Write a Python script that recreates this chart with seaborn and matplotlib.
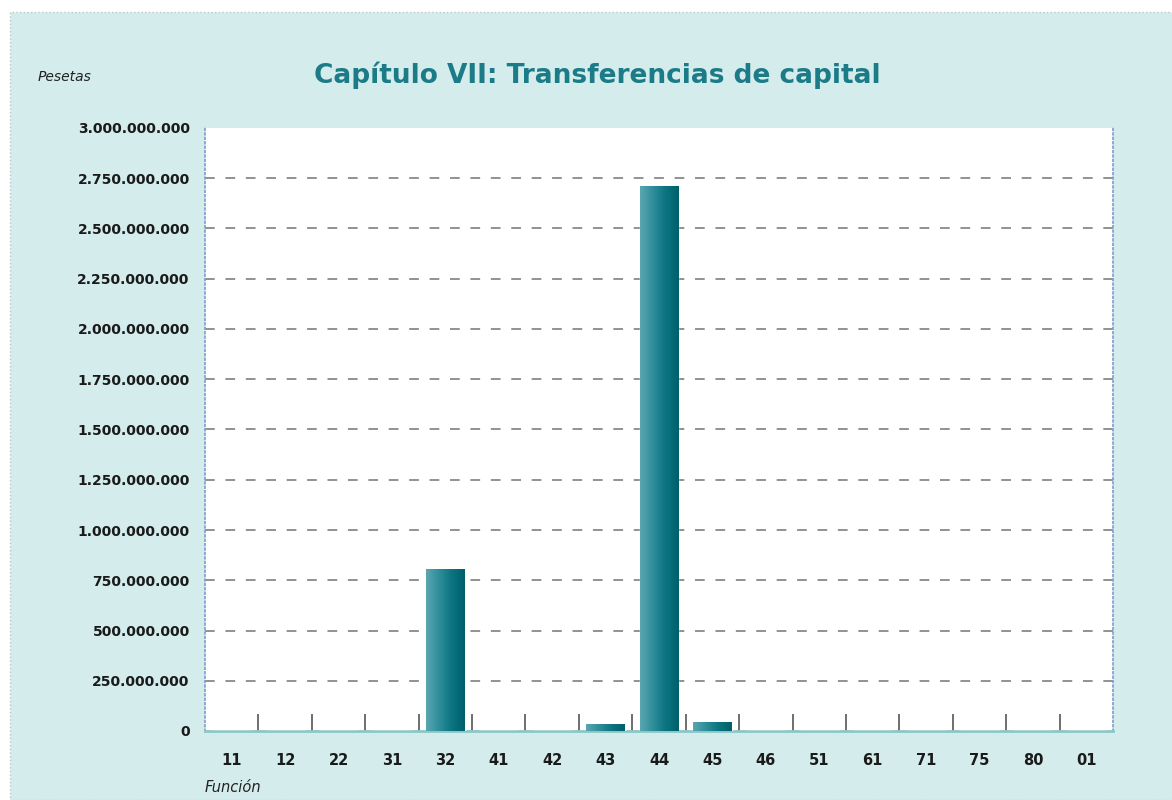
import matplotlib
matplotlib.use("Agg")
import matplotlib.pyplot as plt
import matplotlib.ticker as mticker
from matplotlib.patches import Rectangle
import numpy as np
import pandas as pd
import seaborn as sns

# ── Datos ─────────────────────────────────────────────────────────
funciones = ["11", "12", "22", "31", "32", "41", "42", "43", "44",
             "45", "46", "51", "61", "71", "75", "80", "01"]
pesetas = [0, 0, 0, 0, 808_000_000, 0, 0, 33_000_000, 2_712_000_000,
           46_000_000, 0, 0, 0, 0, 0, 0, 0]
ticks_y = list(range(0, 3_000_000_001, 250_000_000))

TITULO = "Capítulo VII: Transferencias de capital"
COLOR_TITULO = "#1b7b87"
FONDO = "#d4ecec"

sns.set_theme(style="white")
plt.rcParams["font.family"] = ["DejaVu Sans"]

df = pd.DataFrame({"funcion": funciones, "pesetas": pesetas})

fig = plt.figure(figsize=(11.72, 8), dpi=100, facecolor="white")
# fondo tramado del gráfico original
fig.patches.append(Rectangle((10 / 1172, 0), 1, 1 - 12 / 800, transform=fig.transFigure,
                             facecolor=FONDO, edgecolor="#b8c8c8", lw=1, ls=":", zorder=-5))

ax = fig.add_axes([205 / 1172, 1 - 731 / 800, 908 / 1172, 603 / 800])
ax.set_zorder(2)
ax.set_facecolor("white")

sns.barplot(data=df, x="funcion", y="pesetas", order=funciones, color="#2a8c96",
            width=0.73, saturation=1, ax=ax, zorder=3)

# degradado horizontal dentro de cada barra
grad = np.linspace(0, 1, 64).reshape(1, -1)
cmap = matplotlib.colors.LinearSegmentedColormap.from_list(
    "teal", ["#5aa6b0", "#2e8e9a", "#0a7480", "#00606c"])
for barra in ax.patches:
    h = barra.get_height()
    if h <= 0:
        continue
    x0 = barra.get_x()
    w = barra.get_width()
    img = ax.imshow(grad, cmap=cmap, aspect="auto", extent=(x0, x0 + w, 0, h),
                    zorder=4, interpolation="bilinear")
    img.set_clip_path(barra)

ax.set_xlim(-0.5, len(funciones) - 0.5)
ax.set_ylim(0, 3_000_000_000)

# rejilla discontinua
for v in ticks_y[1:-1]:
    ax.axhline(v, color="#929292", lw=1.4, ls=(0, (5, 5.5)), zorder=1)

ax.set_yticks(ticks_y)
ax.yaxis.set_major_formatter(mticker.FuncFormatter(lambda v, _: f"{int(v):,}".replace(",", ".")))
ax.tick_params(axis="y", length=0, pad=11, labelsize=10, labelcolor="#1a1a1a")
for lbl in ax.get_yticklabels():
    lbl.set_fontweight("bold")

ax.set_xticks(range(len(funciones)))
ax.set_xticklabels(funciones, fontweight="bold", fontsize=10.5, color="#1a1a1a")
ax.tick_params(axis="x", length=0, pad=16)
ax.set_xticks(np.arange(0.5, len(funciones) - 1, 1), minor=True)
ax.tick_params(axis="x", which="minor", direction="in", length=12, width=1.2,
               color="#555555", bottom=True)
ax.set_xlabel("")
ax.set_ylabel("")

# bordes
ax.spines["top"].set_visible(False)
for lado in ("left", "right"):
    ax.spines[lado].set_color("#7f9ccc")
    ax.spines[lado].set_linestyle(":")
    ax.spines[lado].set_linewidth(1.2)
ax.spines["bottom"].set_color("#8cc6c6")
ax.spines["bottom"].set_linewidth(2)

fig.text(597 / 1172, 1 - 75 / 800, TITULO, ha="center", va="center",
         fontsize=19, fontweight="bold", color=COLOR_TITULO)
fig.text(38 / 1172, 1 - 77 / 800, "Pesetas", ha="left", va="center",
         fontsize=10, style="italic", color="#222222")
fig.text(205 / 1172, 1 - 788 / 800, "Función", ha="left", va="center",
         fontsize=10.5, style="italic", color="#222222")

fig.savefig("out.png", dpi=100, facecolor=fig.get_facecolor())
